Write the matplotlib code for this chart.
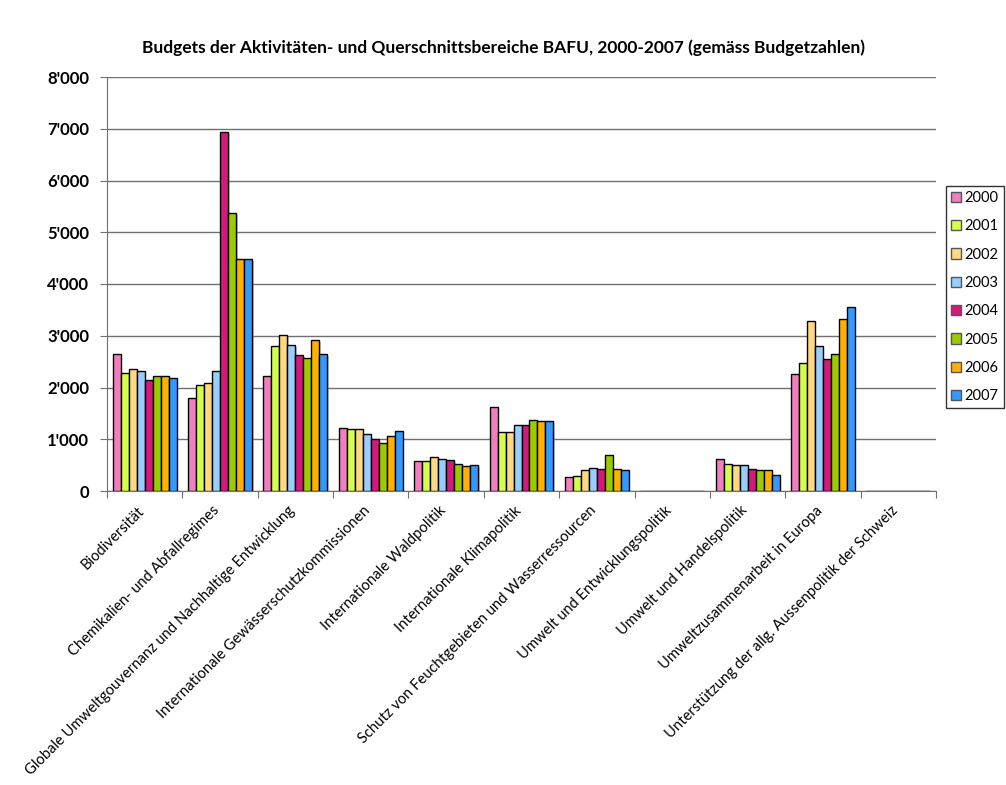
import matplotlib.pyplot as plt
import numpy as np

plt.rcParams["font.family"] = ["Lato", "DejaVu Sans"]

categories = [
    "Biodiversität",
    "Chemikalien- und Abfallregimes",
    "Globale Umweltgouvernanz und Nachhaltige Entwicklung",
    "Internationale Gewässerschutzkommissionen",
    "Internationale Waldpolitik",
    "Internationale Klimapolitik",
    "Schutz von Feuchtgebieten und Wasserressourcen",
    "Umwelt und Entwicklungspolitik",
    "Umwelt und Handelspolitik",
    "Umweltzusammenarbeit in Europa",
    "Unterstützung der allg. Aussenpolitik der Schweiz",
]
years = ["2000", "2001", "2002", "2003", "2004", "2005", "2006", "2007"]

v2000 = [2645, 1803, 2228, 1217, 573, 1617, 271, 0, 625, 2267, 0]
v2001 = [2274, 2042, 2802, 1198, 573, 1134, 297, 0, 528, 2473, 0]
v2002 = [2357, 2081, 3008, 1198, 651, 1134, 406, 0, 502, 3279, 0]
v2003 = [2313, 2313, 2815, 1095, 612, 1282, 438, 0, 502, 2808, 0]
v2004 = [2145, 6931, 2628, 1011, 593, 1276, 425, 0, 419, 2545, 0]
v2005 = [2216, 5378, 2570, 928, 528, 1366, 689, 0, 400, 2641, 0]
v2006 = [2228, 4477, 2924, 1069, 483, 1346, 425, 0, 400, 3318, 0]
v2007 = [2184, 4477, 2647, 1159, 509, 1346, 406, 0, 316, 3561, 0]
series = [v2000, v2001, v2002, v2003, v2004, v2005, v2006, v2007]

colors = ["#F07FBF", "#D4FF4F", "#FFD884", "#99CCFF",
          "#D21A7A", "#99CC00", "#FFB000", "#3399FF"]

fig = plt.figure(figsize=(10.06, 7.85), dpi=100)
ax = fig.add_axes([107 / 1006, 1 - 491 / 785, (936 - 107) / 1006, (491 - 77) / 785])

x = np.arange(len(categories))
w = 0.106
for j, (vals, c) in enumerate(zip(series, colors)):
    pos = x + (j - 3.5) * w
    # soft shadow behind bars
    ax.bar(pos + 0.02, vals, w, bottom=-40, color="#9a9a9a", alpha=0.5, zorder=2)
    ax.bar(pos, vals, w, color=c, edgecolor="black", linewidth=1.0,
           label=years[j], zorder=3)

ax.set_xlim(-0.5, len(categories) - 0.5)
ax.set_ylim(0, 8000)
ax.set_yticks(range(0, 8001, 1000))
ax.set_yticklabels(["0"] + [f"{k}'000" for k in range(1, 9)], fontsize=12, fontweight="bold")
ax.yaxis.grid(True, color="#707070", linewidth=1)
ax.set_axisbelow(True)

ax.set_xticks(np.arange(len(categories) + 1) - 0.5)
ax.set_xticklabels([])
ax.set_xticks(x - 0.1, minor=True)
ax.set_xticklabels(categories, minor=True, rotation=45, ha="right",
                   rotation_mode="anchor", fontsize=10.6)
ax.tick_params(axis="x", which="minor", length=0, pad=9)
ax.tick_params(axis="x", which="major", length=5, color="#707070")
ax.tick_params(axis="y", length=5, color="#707070", pad=8)

for s in ["top", "right"]:
    ax.spines[s].set_visible(False)
for s in ["left", "bottom"]:
    ax.spines[s].set_color("#707070")

leg = fig.legend(loc="upper right", bbox_to_anchor=(1004 / 1006, 1 - 186 / 785),
                 fontsize=10.5, frameon=True, fancybox=False, edgecolor="black",
                 handlelength=0.7, handleheight=0.7, handletextpad=0.25,
                 borderpad=0.35, labelspacing=0.98, borderaxespad=0)
for h in leg.legend_handles:
    h.set_edgecolor("#555555")

fig.text(0.5, 1 - 48 / 785,
         "Budgets der Aktivitäten- und Querschnittsbereiche BAFU, 2000-2007 (gemäss Budgetzahlen)",
         ha="center", va="center", fontsize=12.5, fontweight="bold")

fig.savefig("out.png", dpi=100)
